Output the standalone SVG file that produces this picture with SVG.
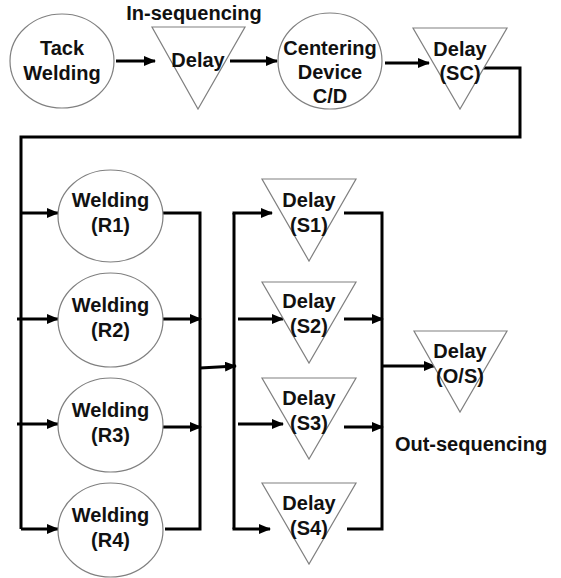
<svg xmlns="http://www.w3.org/2000/svg" width="561" height="578" viewBox="0 0 561 578">
<defs>
<marker id="ah" viewBox="0 0 12 10" refX="11" refY="5" markerWidth="12" markerHeight="10" markerUnits="userSpaceOnUse" orient="auto">
<path d="M0,0 L12,5 L0,10 Z" fill="#000"/>
</marker>
</defs>
<style>
.n{fill:#fff;stroke:#808080;stroke-width:1.2}
.t{font-family:"Liberation Sans",Arial,sans-serif;font-weight:bold;font-size:20px;fill:#111;text-anchor:middle}
.c{fill:none;stroke:#000;stroke-width:3}
.a{marker-end:url(#ah)}
</style>
<rect width="561" height="578" fill="#fff"/>
<g id="connectors">
<line class="c a" x1="116" y1="61" x2="155" y2="61"/>
<line class="c a" x1="230" y1="61" x2="277" y2="61"/>
<line class="c a" x1="385" y1="63" x2="429" y2="63"/>
<polyline class="c" points="483,68 520,68 520,137 21,137 21,529"/>
<line class="c a" x1="21" y1="213" x2="58" y2="213"/>
<line class="c a" x1="17" y1="319" x2="58" y2="319"/>
<line class="c a" x1="17" y1="424" x2="58" y2="424"/>
<line class="c a" x1="21" y1="529" x2="58" y2="529"/>
<polyline class="c" points="163,213 200,213 200,529 165,529"/>
<line class="c a" x1="163" y1="319" x2="201" y2="319"/>
<line class="c a" x1="163" y1="427" x2="201" y2="427"/>
<line class="c a" x1="200" y1="368" x2="236" y2="366"/>
<line class="c" x1="234" y1="213" x2="234" y2="529"/>
<line class="c a" x1="232.5" y1="213" x2="272" y2="213"/>
<line class="c a" x1="232.5" y1="529" x2="270" y2="529"/>
<line class="c a" x1="238" y1="319" x2="283" y2="319"/>
<line class="c a" x1="238" y1="424" x2="283" y2="424"/>
<polyline class="c" points="344,213 382,213 382,529 347,529"/>
<line class="c a" x1="344" y1="319" x2="383" y2="319"/>
<line class="c a" x1="344" y1="427" x2="383" y2="427"/>
<line class="c a" x1="382" y1="366" x2="435" y2="366"/>
</g>
<text class="t" x="194" y="20">In-sequencing</text>
<text class="t" x="471" y="451">Out-sequencing</text>
<g id="tack">
<ellipse class="n" cx="62" cy="61" rx="52" ry="47"/>
<text class="t" x="62" y="55">Tack</text>
<text class="t" x="62" y="80">Welding</text>
</g>
<g id="delay-in">
<polygon class="n" points="152,27 245,27 198,109"/>
<text class="t" x="198" y="67">Delay</text>
</g>
<g id="centering">
<ellipse class="n" cx="330" cy="61" rx="52" ry="48"/>
<text class="t" x="330" y="55">Centering</text>
<text class="t" x="330" y="79">Device</text>
<text class="t" x="330" y="103">C/D</text>
</g>
<g id="delay-sc">
<polygon class="n" points="413,28 507,28 460,109"/>
<text class="t" x="460" y="56">Delay</text>
<text class="t" x="460" y="80">(SC)</text>
</g>
<g id="r1">
<ellipse class="n" cx="110.5" cy="216" rx="52.5" ry="46"/>
<text class="t" x="110.5" y="207">Welding</text>
<text class="t" x="110.5" y="232">(R1)</text>
</g>
<g id="r2">
<ellipse class="n" cx="110.5" cy="320" rx="52.5" ry="47"/>
<text class="t" x="110.5" y="312">Welding</text>
<text class="t" x="110.5" y="337">(R2)</text>
</g>
<g id="r3">
<ellipse class="n" cx="110.5" cy="425" rx="52.5" ry="47"/>
<text class="t" x="110.5" y="417">Welding</text>
<text class="t" x="110.5" y="442">(R3)</text>
</g>
<g id="r4">
<ellipse class="n" cx="110.5" cy="530" rx="52.5" ry="47"/>
<text class="t" x="110.5" y="522">Welding</text>
<text class="t" x="110.5" y="547">(R4)</text>
</g>
<g id="s1">
<polygon class="n" points="262,179 356,179 309,261"/>
<text class="t" x="309" y="207">Delay</text>
<text class="t" x="309" y="232">(S1)</text>
</g>
<g id="s2">
<polygon class="n" points="262,282 356,282 309,363"/>
<text class="t" x="309" y="308">Delay</text>
<text class="t" x="309" y="333">(S2)</text>
</g>
<g id="s3">
<polygon class="n" points="262,378 356,378 309,459"/>
<text class="t" x="309" y="405">Delay</text>
<text class="t" x="309" y="430">(S3)</text>
</g>
<g id="s4">
<polygon class="n" points="262,483 356,483 309,564"/>
<text class="t" x="309" y="510">Delay</text>
<text class="t" x="309" y="535">(S4)</text>
</g>
<g id="os">
<polygon class="n" points="414,331 507,331 460,412"/>
<text class="t" x="460" y="358">Delay</text>
<text class="t" x="460" y="383">(O/S)</text>
</g>
</svg>
